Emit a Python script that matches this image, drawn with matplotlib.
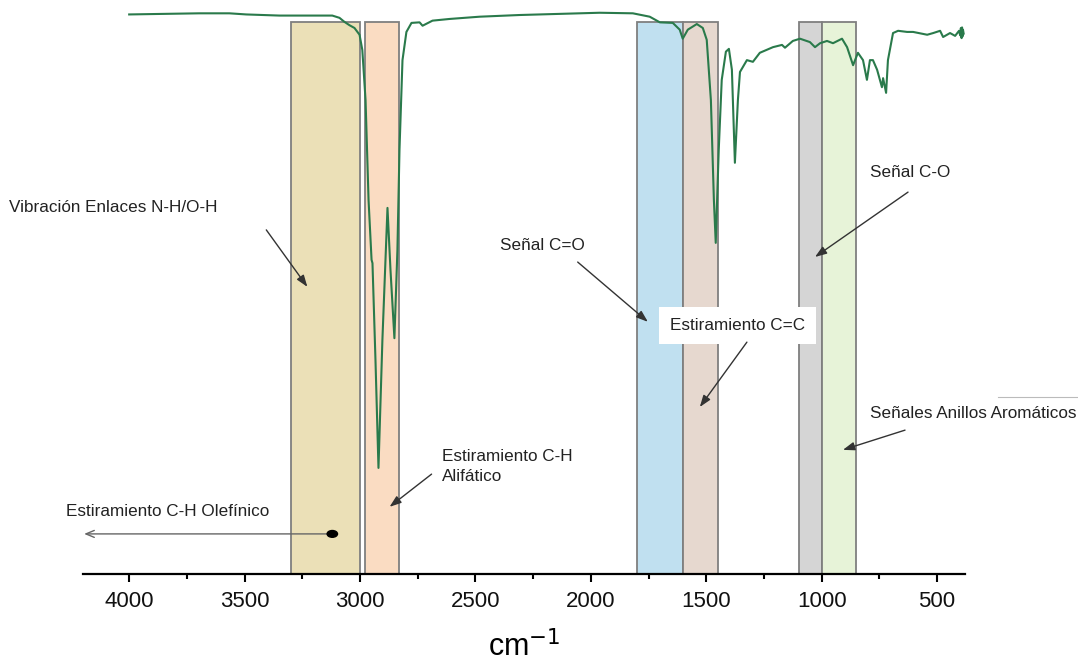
import matplotlib.pyplot as plt
from matplotlib.patches import Ellipse
from matplotlib.lines import Line2D

plt.rcParams['font.family'] = ['Liberation Sans', 'DejaVu Sans']

# espectro IR (numero de onda, transmitancia %)
numero_onda = [4000, 3850, 3696, 3566, 3493, 3349, 3120, 3089, 3068, 3046, 3024,
               3002, 2990, 2976, 2963, 2950, 2946, 2933, 2920, 2903, 2881, 2868,
               2851, 2838, 2829, 2816, 2799, 2777, 2742, 2729, 2686, 2612, 2482,
               2308, 2135, 1962, 1818, 1745, 1701, 1645, 1615, 1602, 1580, 1541,
               1515, 1498, 1480, 1467, 1459, 1446, 1433, 1415, 1402, 1389, 1376,
               1363, 1354, 1324, 1298, 1268, 1211, 1172, 1159, 1125, 1094, 1051,
               1029, 1007, 977, 951, 912, 890, 864, 843, 821, 804, 791, 778, 760,
               739, 734, 721, 713, 691, 669, 630, 604, 543, 517, 487, 474, 444,
               422, 405, 400, 397, 394, 392, 390, 388, 385]
transmitancia = [99.2, 99.3, 99.4, 99.4, 99.2, 99.0, 99.0, 98.6, 97.9, 97.3, 96.8,
                 95.6, 92.9, 84.0, 66.3, 55.7, 55.1, 37.9, 18.8, 41.5, 64.9, 53.9,
                 41.8, 57.4, 75.2, 91.1, 96.1, 97.7, 97.8, 97.2, 98.1, 98.4, 98.8,
                 99.1, 99.3, 99.5, 99.4, 98.8, 97.8, 97.7, 96.5, 94.9, 96.5, 97.5,
                 96.8, 94.7, 84.0, 66.3, 58.7, 75.2, 87.6, 92.6, 93.1, 89.4, 72.9,
                 84.0, 89.0, 91.1, 90.8, 92.4, 93.4, 93.8, 93.3, 94.5, 94.9, 94.3,
                 93.4, 94.1, 94.5, 94.1, 94.9, 93.4, 90.2, 92.4, 91.1, 87.6, 91.1,
                 91.1, 89.4, 86.3, 87.9, 85.3, 91.1, 95.9, 96.3, 96.1, 96.1, 95.6,
                 95.9, 96.3, 95.2, 95.9, 95.4, 96.3, 95.5, 96.8, 95.0, 96.9, 95.3,
                 96.5, 95.8]

# bandas de asignacion (inicio, fin, color)
bandas_inicio = [3300, 2980, 1800, 1600, 1100, 1000]
bandas_fin = [3000, 2830, 1600, 1450, 1000, 850]
bandas_color = ['#ebe0b7', '#fadcc2', '#c0e0f0', '#e6d8cf', '#d5d5d5', '#e7f3d8']
altura_banda = 97.9

# etiquetas: texto, posicion del texto, cola y punta de la flecha
etiquetas = ['Vibración Enlaces N-H/O-H', 'Estiramiento C-H\nAlifático',
             'Señal C=O', 'Estiramiento C=C', 'Señal C-O',
             'Señales Anillos Aromáticos']
etiquetas_xy = [(4520, 64.9), (2643, 19.1), (2395, 58.3), (1658, 44.1),
                (790, 71.1), (790, 28.5)]
flechas_cola = [(3406, 61.0), (2690, 17.7), (2057, 55.3), (1324, 41.1),
                (626, 67.7), (639, 25.5)]
flechas_punta = [(3228, 50.9), (2872, 11.9), (1753, 44.7), (1528, 29.6),
                 (1029, 56.2), (908, 22.0)]

olefinico_texto = 'Estiramiento C-H Olefínico'
olefinico_xy = (4273, 11.0)
olefinico_cola = (3120, 7.1)
olefinico_punta = (4195, 7.1)

fig = plt.figure(figsize=(10.78, 6.62), dpi=100)
ax = fig.add_axes([0.077, 0.133, 0.818, 0.852])

for ini, fin, col in zip(bandas_inicio, bandas_fin, bandas_color):
    ax.axvspan(fin, ini, ymin=0, ymax=altura_banda / 100, facecolor=col,
               edgecolor='#7f7f7f', linewidth=1.3, zorder=1)

ax.plot(numero_onda, transmitancia, color='#2a7a4b', linewidth=1.5, zorder=3)

for txt, pos, cola, punta in zip(etiquetas, etiquetas_xy, flechas_cola, flechas_punta):
    caja = None
    if txt == 'Estiramiento C=C':
        caja = dict(boxstyle='square,pad=0.65', facecolor='white', edgecolor='none')
    ax.text(pos[0], pos[1], txt, fontsize=12.3, color='#222222', ha='left',
            va='center', linespacing=1.45, bbox=caja, zorder=4, clip_on=False)
    ax.annotate('', xy=punta, xytext=cola, annotation_clip=False, zorder=5,
                arrowprops=dict(arrowstyle='-|>,head_length=0.7,head_width=0.25',
                                color='#333333', lw=1.0, shrinkA=0, shrinkB=0))

ax.text(olefinico_xy[0], olefinico_xy[1], olefinico_texto, fontsize=12.3,
        color='#222222', ha='left', va='center', zorder=4, clip_on=False)
ax.annotate('', xy=olefinico_punta, xytext=olefinico_cola, annotation_clip=False,
            zorder=5, arrowprops=dict(arrowstyle='->,head_length=0.6,head_width=0.25',
                                      color='#666666', lw=1.0, shrinkA=0, shrinkB=0))
ax.add_patch(Ellipse(olefinico_cola, width=45, height=1.2, color='black', zorder=6))

# linea fina del recuadro de la derecha
fig.add_artist(Line2D([998 / 1078, 1.0], [1 - 397 / 662, 1 - 397 / 662],
                      color='#bbbbbb', linewidth=0.8))

ax.set_xlim(4200, 380)
ax.set_ylim(0, 100)
ax.set_xticks([4000, 3500, 3000, 2500, 2000, 1500, 1000, 500])
ax.set_xticks([3750, 3250, 2750, 2250, 1750, 1250, 750], minor=True)
ax.tick_params(axis='x', which='major', direction='out', length=6, width=1.5,
               labelsize=16, pad=6, labelcolor='#111111')
ax.tick_params(axis='x', which='minor', direction='out', length=3.5, width=1.5)
ax.set_yticks([])
for lado in ['left', 'right', 'top']:
    ax.spines[lado].set_visible(False)
ax.spines['bottom'].set_linewidth(1.6)
ax.set_xlabel('cm$^{-1}$', fontsize=22, labelpad=14)
ax.patch.set_alpha(0)

plt.savefig('out.png', dpi=100)
